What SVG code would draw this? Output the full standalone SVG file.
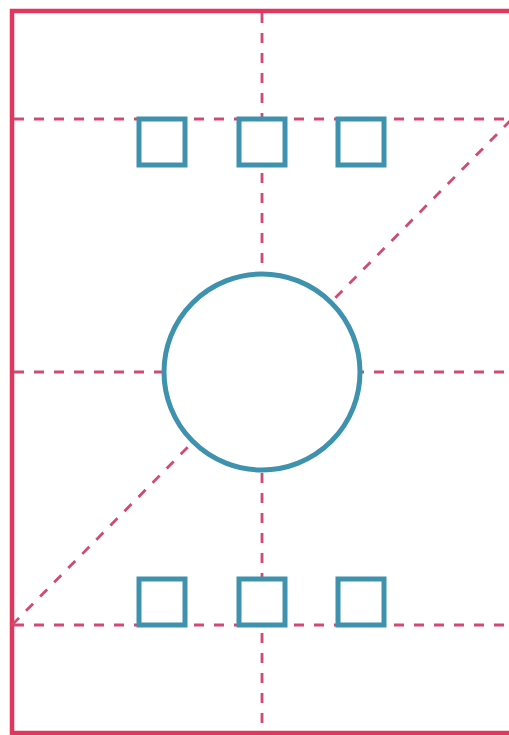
<svg xmlns="http://www.w3.org/2000/svg" width="509" height="735" viewBox="0 0 509 735">
<style>
.guide{fill:none;stroke:#d14a72;stroke-width:2.8;stroke-dasharray:10 10}
.shape{fill:#fff;stroke:#3f92ad;stroke-width:5}
</style>
<rect width="509" height="735" fill="#fff"/>
<rect id="frame" x="12" y="11" width="510" height="722" fill="none" stroke="#e0375f" stroke-width="4.5"/>
<g id="connectors">
<line class="guide" x1="262" y1="13" x2="262" y2="733"/>
<line class="guide" x1="14" y1="119" x2="509" y2="119"/>
<line class="guide" x1="14" y1="372" x2="509" y2="372"/>
<line class="guide" x1="14" y1="625" x2="509" y2="625"/>
<line class="guide" x1="12" y1="625" x2="512" y2="119"/>
</g>
<g id="circle"><circle class="shape" cx="262" cy="372" r="98"/></g>
<g id="sq-t1"><rect class="shape" x="139" y="119" width="46" height="46"/></g>
<g id="sq-t2"><rect class="shape" x="239" y="119" width="46" height="46"/></g>
<g id="sq-t3"><rect class="shape" x="338" y="119" width="46" height="46"/></g>
<g id="sq-b1"><rect class="shape" x="139" y="579" width="46" height="46"/></g>
<g id="sq-b2"><rect class="shape" x="239" y="579" width="46" height="46"/></g>
<g id="sq-b3"><rect class="shape" x="338" y="579" width="46" height="46"/></g>
</svg>
